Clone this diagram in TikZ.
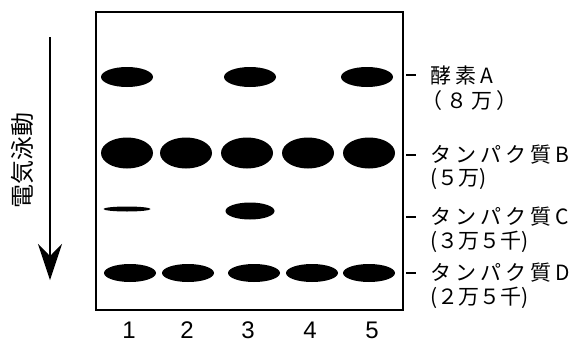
\documentclass[tikz,border=0pt]{standalone}
\usepackage{fontspec}
\usetikzlibrary{shapes.geometric,arrows.meta}
\setsansfont{Liberation Sans}
\newfontfamily\jpfont{Noto Sans CJK JP}
\newfontfamily\jpwide[LetterSpace=19]{Noto Sans CJK JP}

\begin{document}
\begin{tikzpicture}[
	x=1pt, y=-1pt,
	% gel band style
	band/.style={
		ellipse,
		fill=black,
		inner sep=0pt,
		minimum width=52pt
	},
	% lane number style
	lane num/.style={
		font=\fontsize{24}{24}\sffamily,
		inner sep=0pt,
		text depth=0pt
	},
	% protein label style
	prot name/.style={
		anchor=west,
		inner sep=0pt,
		font=\fontsize{21}{21}\jpwide
	},
	prot weight/.style={
		anchor=west,
		inner sep=0pt,
		font=\fontsize{21}{21}\jpfont
	},
	tick line/.style={
		draw=black,
		line width=1.6pt
	}
	]
	\useasboundingbox (0,0) rectangle (572,343);
	
	% ================= GEL =================
	\draw[line width=2pt] (96,12) rectangle (403,310);
	
	% ================= BANDS =================
	\node[band, minimum height=20pt] (A1) at (127,77) {};
	\node[band, minimum height=20pt] (A3) at (250,77) {};
	\node[band, minimum height=20pt] (A5) at (367,77) {};
	
	\node[band, minimum height=31pt] (B1) at (127,153) {};
	\node[band, minimum height=31pt] (B2) at (186,153) {};
	\node[band, minimum height=31pt] (B3) at (247,153) {};
	\node[band, minimum height=31pt] (B4) at (308,153) {};
	\node[band, minimum height=31pt] (B5) at (369,153) {};
	
	\node[band, minimum width=47pt, minimum height=5pt] (C1) at (127,209) {};
	\node[band, minimum width=49pt, minimum height=17pt] (C3) at (250,211) {};
	
	\node[band, minimum height=18pt] (D1) at (130,273) {};
	\node[band, minimum height=18pt] (D2) at (188,273) {};
	\node[band, minimum height=18pt] (D3) at (254,273) {};
	\node[band, minimum height=18pt] (D4) at (312,273) {};
	\node[band, minimum height=18pt] (D5) at (369,273) {};
	
	% ================= LANES =================
	\node[lane num] (L1) at (129,330) {1};
	\node[lane num] (L2) at (187,330) {2};
	\node[lane num] (L3) at (248,330) {3};
	\node[lane num] (L4) at (310,330) {4};
	\node[lane num] (L5) at (372,330) {5};
	
	% ================= LABELS =================
	\node[prot name] (nameA) at (430,75) {酵素A};
	\node[prot name] (wtA) at (421,101) {（８万）};
	\node[prot name] (nameB) at (430,155) {タンパク質B};
	\node[prot weight] (wtB) at (430,179) {(５万)};
	\node[prot name] (nameC) at (430,217) {タンパク質C};
	\node[prot weight] (wtC) at (430,242) {(３万５千)};
	\node[prot name] (nameD) at (430,273) {タンパク質D};
	\node[prot weight] (wtD) at (430,298) {(２万５千)};
	
	\coordinate (tA) at (406,75);
	\coordinate (tB) at (406,155);
	\coordinate (tC) at (406,217);
	\coordinate (tD) at (406,273);
	\draw[tick line] (tA) -- ++(10,0);
	\draw[tick line] (tB) -- ++(10,0);
	\draw[tick line] (tC) -- ++(10,0);
	\draw[tick line] (tD) -- ++(10,0);
	
	% ================= DIRECTION =================
	\node[rotate=90, inner sep=0pt, font=\fontsize{24}{24}\jpfont] (dir) at (22,160) {電気泳動};
	\coordinate (top) at (50,37);
	\coordinate (tip) at (50,280);
	\draw[line width=1.3pt, -{Stealth[length=36pt, width=24pt, inset=12pt]}] (top) -- (tip);
	
\end{tikzpicture}
\end{document}
